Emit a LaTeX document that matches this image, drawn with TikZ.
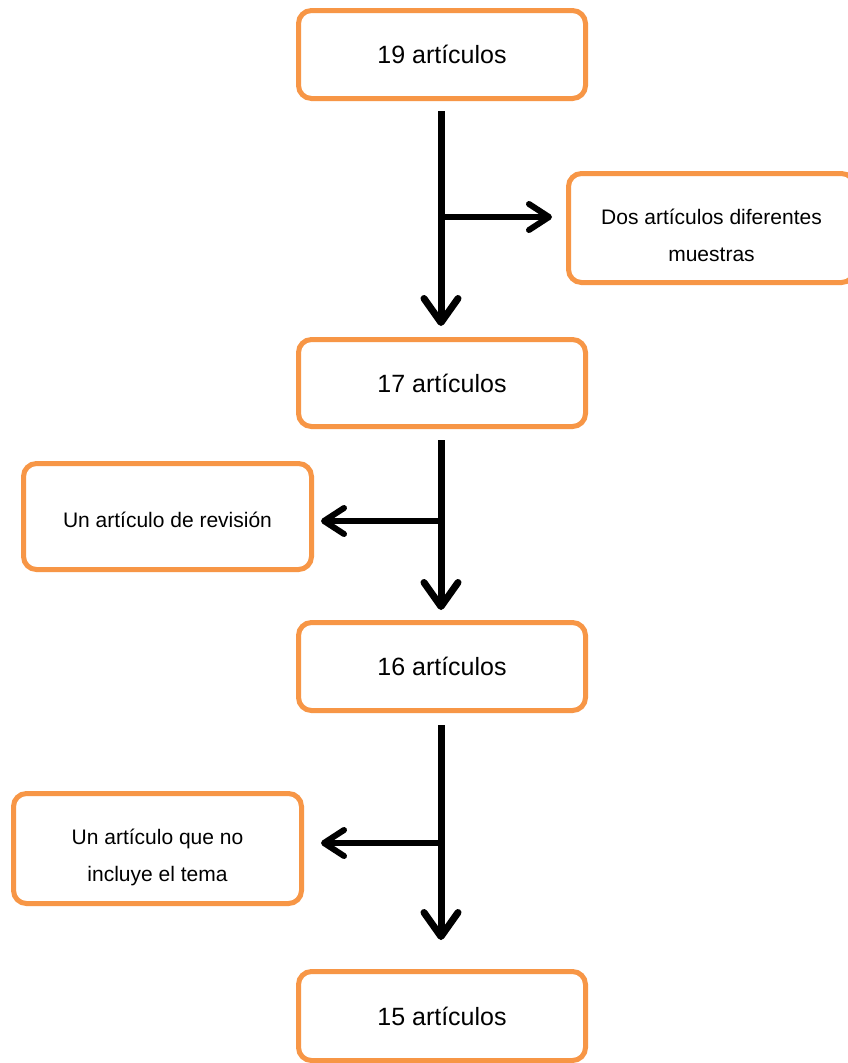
\documentclass[tikz,border=0pt]{standalone}
\usepackage{fontspec}
\setmainfont{Liberation Sans}
\usetikzlibrary{arrows.meta}
\definecolor{boxorange}{HTML}{F79646}
\tikzset{
  box/.style={draw=boxorange, line width=5pt, rounded corners=13pt, fill=white,
    align=center, inner sep=0pt, text=black},
  bigbox/.style={box, minimum width=287pt, minimum height=88pt,
    font=\fontsize{25}{30}\selectfont},
  smallbox/.style={box, minimum width=288pt},
  boxtext/.style={align=center, inner sep=0pt, text=black,
    font=\fontsize{21}{37}\selectfont},
  mainarrow/.style={line width=7pt, -{Straight Barb[length=24pt,width=34pt,round]}},
  sidearrow/.style={line width=6pt, -{Straight Barb[length=20pt,width=26pt,round]}},
}
\begin{document}
\begin{tikzpicture}[x=1pt,y=-1pt]
\clip (0,0) rectangle (848,1063);
\fill[white] (0,0) rectangle (848,1063);

\node[bigbox] (b1) at (442,54.5) {19 artículos};
\node[smallbox, minimum width=286pt, minimum height=109pt] (b2) at (711.5,228) {};
\node[boxtext] (b2t) at ([yshift=-7pt]b2.center) {Dos artículos diferentes\\muestras};
\node[bigbox, minimum height=87pt] (b3) at (442,383) {17 artículos};
\node[smallbox, minimum height=106pt] (b4) at (167.5,516.5) {};
\node[boxtext] (b4t) at ([yshift=-3pt]b4.center) {Un artículo de revisión};
\node[bigbox] (b5) at (442,666.5) {16 artículos};
\node[smallbox, minimum height=110pt] (b6) at (157.5,848.5) {};
\node[boxtext] (b6t) at ([yshift=-9pt]b6.center) {Un artículo que no\\incluye el tema};
\node[bigbox, minimum height=89pt] (b7) at (442,1016) {15 artículos};

\coordinate (s1) at (441,111);
\coordinate (t1) at (441,326);
\coordinate (j1) at (441,217);
\coordinate (s2) at (441,440);
\coordinate (t2) at (441,610);
\coordinate (j2) at (441,521);
\coordinate (s3) at (441,725);
\coordinate (t3) at (441,940);
\coordinate (j3) at (441,843);

\draw[mainarrow] (s1) -- (t1);
\draw[sidearrow, shorten >=14pt] (j1) -- (b2.west |- j1);
\draw[mainarrow] (s2) -- (t2);
\draw[sidearrow, shorten >=7pt] (j2) -- (b4.east |- j2);
\draw[mainarrow] (s3) -- (t3);
\draw[sidearrow, shorten >=17pt] (j3) -- (b6.east |- j3);
\end{tikzpicture}
\end{document}
